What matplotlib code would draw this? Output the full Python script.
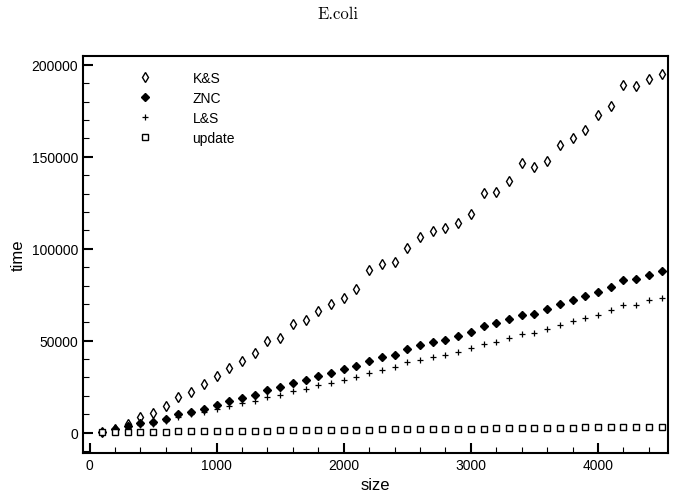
"""
    E.coli timing chart
"""
import numpy as np
import matplotlib
matplotlib.use("Agg")
import matplotlib.pyplot as plt
from matplotlib.ticker import MultipleLocator

plt.rcParams["font.family"] = ["Liberation Sans", "DejaVu Sans"]

sizes = np.arange(100, 4600, 100)

ks_time = [400, 2200, 4900, 8500, 10900, 14500, 19200, 22300, 26600, 30600,
           35000, 39000, 43100, 49600, 51600, 59300, 61000, 65900, 69700, 73400,
           77900, 88200, 91800, 92600, 100500, 106300, 109400, 111400, 114100, 119000,
           130100, 131100, 136800, 146400, 144400, 148000, 156500, 160500, 164700, 172800,
           177900, 189100, 188400, 192500, 194900]

znc_time = [300, 2000, 3400, 5200, 6000, 7600, 10000, 11000, 13000, 15200,
            17000, 18800, 20600, 23000, 24600, 27200, 28400, 30600, 32400, 34400,
            36200, 38900, 41300, 42200, 45600, 47600, 49300, 50500, 52500, 54700,
            58000, 59400, 61800, 64100, 64700, 67400, 69700, 72100, 74100, 76500,
            79000, 82800, 83500, 85500, 87900]

ls_time = [200, 1500, 2500, 4000, 4700, 6500, 8700, 10000, 11200, 12700,
           14300, 15900, 17200, 19400, 20600, 22400, 23900, 25900, 27000, 28600,
           30400, 32500, 34200, 35500, 38200, 39700, 41300, 42200, 43900, 46000,
           48400, 49500, 51500, 53600, 54200, 56500, 58500, 60500, 62300, 64100,
           66500, 69400, 69600, 71900, 73400]

update_time = [100, 200, 300, 400, 400, 500, 600, 700, 700, 800,
               900, 1000, 1000, 1100, 1200, 1200, 1300, 1400, 1400, 1500,
               1600, 1600, 1700, 1800, 1800, 1900, 2000, 2000, 2100, 2200,
               2200, 2300, 2400, 2400, 2500, 2600, 2600, 2700, 2800, 2800,
               2900, 3000, 3000, 3100, 3200]

fig = plt.figure(figsize=(6.76, 5.02), dpi=100)
ax = fig.add_axes([0.123, 0.096, 0.865, 0.791])

ax.plot(sizes, ks_time, linestyle="none", marker="d", markersize=5.5,
        markerfacecolor="white", markeredgecolor="black", markeredgewidth=1.0, label="K&S")
ax.plot(sizes, znc_time, linestyle="none", marker="D", markersize=4,
        color="black", label="ZNC")
ax.plot(sizes, ls_time, linestyle="none", marker="+", markersize=5,
        color="black", markeredgewidth=0.9, label="L&S")
ax.plot(sizes, update_time, linestyle="none", marker="s", markersize=4,
        markerfacecolor="white", markeredgecolor="black", markeredgewidth=1.0, label="update")

ax.set_xlim(-50, 4550)
ax.set_ylim(-11000, 205000)

ax.xaxis.set_major_locator(MultipleLocator(1000))
ax.xaxis.set_minor_locator(MultipleLocator(200))
ax.yaxis.set_major_locator(MultipleLocator(50000))
ax.yaxis.set_minor_locator(MultipleLocator(10000))
ax.tick_params(which="both", direction="in", top=False, right=False, labelsize=10)
ax.tick_params(which="major", length=7, width=1.5)
ax.tick_params(which="minor", length=4.5, width=0.8)

for spine in ax.spines.values():
    spine.set_linewidth(1.5)

ax.set_xlabel("size", fontsize=12)
ax.set_ylabel("time", fontsize=12)

ax.legend(loc="upper left", bbox_to_anchor=(0.061, 0.993), frameon=False,
          handletextpad=2.4, labelspacing=0.42, fontsize=10)

fig.text(0.5, 0.972, "E.coli", ha="center", va="center", fontsize=12, family="cmr10")

fig.savefig("out.png", dpi=100)
